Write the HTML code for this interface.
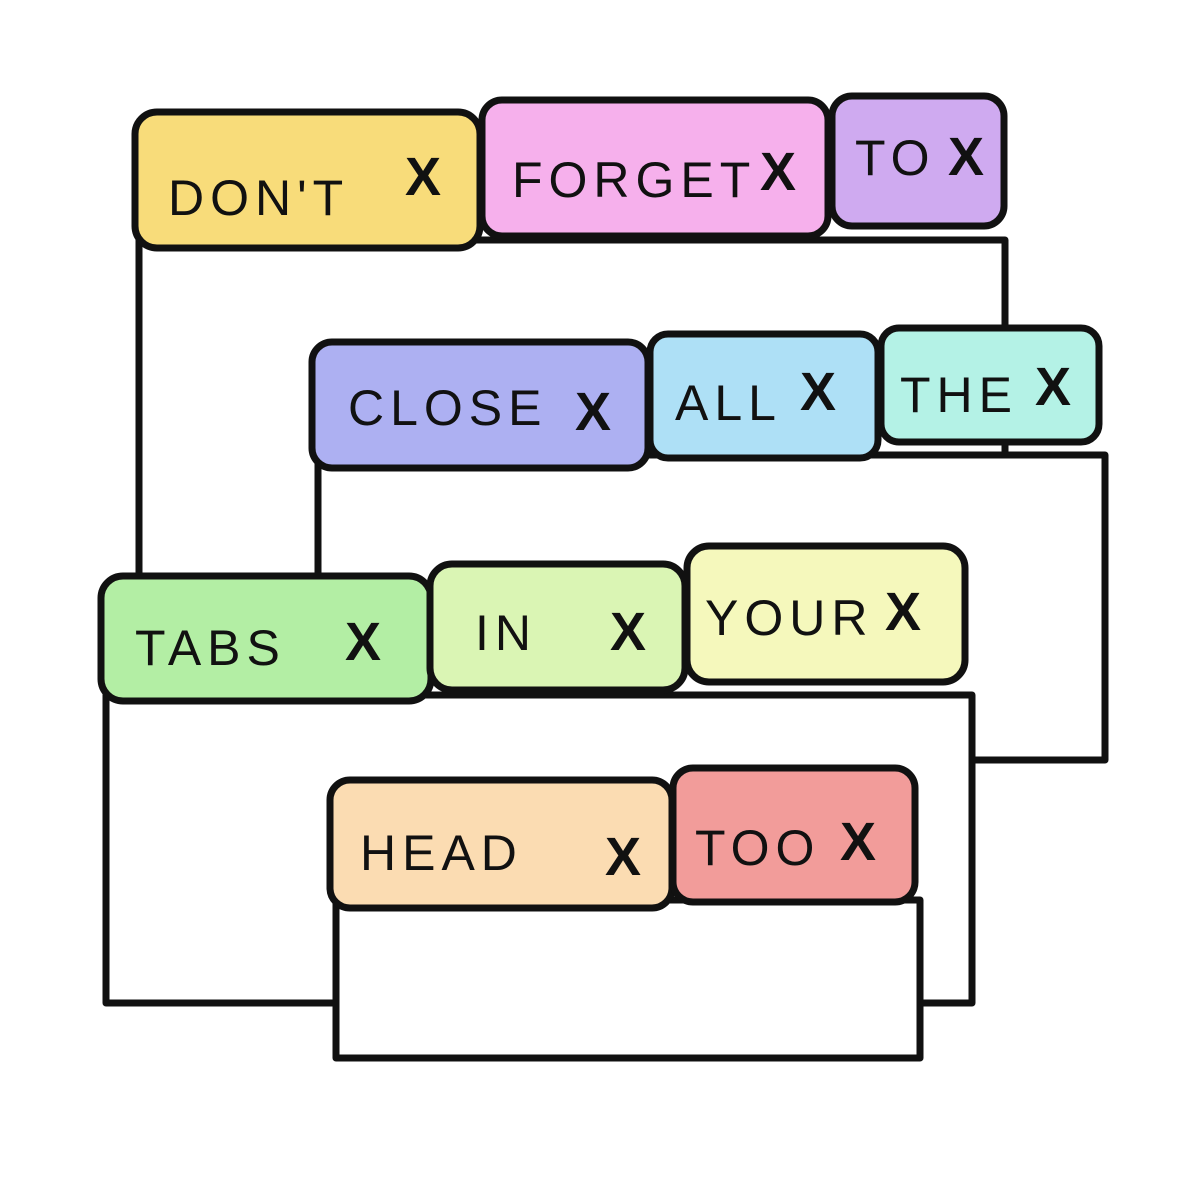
<!DOCTYPE html>
<html><head><style>
html,body{margin:0;padding:0;background:#fff;width:1200px;height:1193px;overflow:hidden}
svg text{font-family:"Liberation Sans",sans-serif;fill:#111}
.t{font-size:50px;letter-spacing:6px;font-weight:normal}
.x{font-size:54px;font-weight:bold}
</style></head><body>
<svg width="1200" height="1193" viewBox="0 0 1200 1193" xmlns="http://www.w3.org/2000/svg">
<g stroke="#111" stroke-width="7" stroke-linejoin="round" stroke-linecap="round">
<!-- Window 1 -->
<rect x="139" y="240" width="866" height="400" fill="#fff"/>
<rect x="135" y="112" width="345" height="136" rx="22" fill="#f8dc7a"/>
<rect x="482" y="100" width="346" height="136" rx="20" fill="#f6b0ec"/>
<rect x="832" y="96" width="172" height="130" rx="20" fill="#cfaaf0"/>
<!-- Window 2 -->
<rect x="318" y="455" width="787" height="305" fill="#fff"/>
<rect x="312" y="342" width="336" height="126" rx="20" fill="#adb0f2"/>
<rect x="650" y="334" width="228" height="124" rx="18" fill="#aee0f6"/>
<rect x="881" y="328" width="218" height="114" rx="18" fill="#b4f2e6"/>
<!-- Window 3 -->
<rect x="106" y="695" width="866" height="308" fill="#fff"/>
<rect x="101" y="576" width="330" height="125" rx="22" fill="#b3eea4"/>
<rect x="430" y="564" width="255" height="126" rx="22" fill="#daf5b4"/>
<rect x="687" y="546" width="278" height="136" rx="22" fill="#f5f8bc"/>
<!-- Window 4 -->
<rect x="336" y="900" width="584" height="158" fill="#fff"/>
<rect x="330" y="780" width="342" height="128" rx="20" fill="#fbdcb2"/>
<rect x="673" y="768" width="242" height="134" rx="20" fill="#f29c9a"/>
</g>
<text class="t" x="168" y="215">DON'T</text><text class="x" x="405" y="195">X</text>
<text class="t" x="512" y="197">FORGET</text><text class="x" x="760" y="190">X</text>
<text class="t" x="855" y="175">TO</text><text class="x" x="948" y="175">X</text>
<text class="t" x="348" y="425">CLOSE</text><text class="x" x="575" y="430">X</text>
<text class="t" x="675" y="420">ALL</text><text class="x" x="800" y="410">X</text>
<text class="t" x="900" y="412">THE</text><text class="x" x="1035" y="405">X</text>
<text class="t" x="135" y="665">TABS</text><text class="x" x="345" y="660">X</text>
<text class="t" x="475" y="650">IN</text><text class="x" x="610" y="650">X</text>
<text class="t" x="705" y="635">YOUR</text><text class="x" x="885" y="630">X</text>
<text class="t" x="360" y="870">HEAD</text><text class="x" x="605" y="875">X</text>
<text class="t" x="695" y="865">TOO</text><text class="x" x="840" y="860">X</text>
</svg>
</body></html>
